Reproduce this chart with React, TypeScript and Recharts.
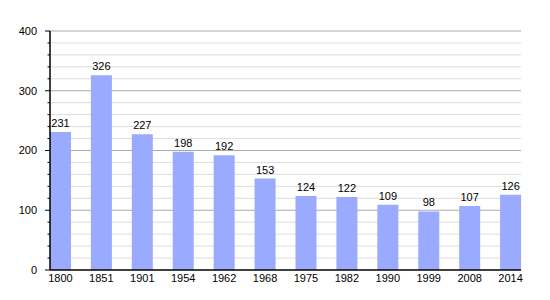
import React from "react";
import { BarChart, Bar, XAxis, YAxis, CartesianGrid, LabelList } from "recharts";

const years = ["1800", "1851", "1901", "1954", "1962", "1968", "1975", "1982", "1990", "1999", "2008", "2014"];
const population = [231, 326, 227, 198, 192, 153, 124, 122, 109, 98, 107, 126];
const yTicks = [0, 20, 40, 60, 80, 100, 120, 140, 160, 180, 200, 220, 240, 260, 280, 300, 320, 340, 360, 380, 400];
const majorTicks = [100, 200, 300, 400];
const minorTicks = yTicks.filter((t) => t % 100 !== 0);

const data = years.map((y, i) => ({ idx: i, year: y, value: population[i] }));

const FONT = "'Liberation Sans', Arial, sans-serif";

const YTick = (props: any) => {
  const { x, y, payload } = props;
  const v = payload.value as number;
  const major = v % 100 === 0;
  return (
    <g>
      <line x1={x - (major ? 5 : 2.5)} x2={x} y1={y} y2={y} stroke="#000" strokeWidth={1} />
      {major && (
        <text x={x - 13} y={y} dy="0.35em" textAnchor="end" fontSize={11} fontFamily={FONT} fill="#000">
          {v}
        </text>
      )}
    </g>
  );
};

export default function App() {
  return (
    <div style={{ position: "absolute", left: 0, top: 0, width: 550, height: 300, background: "#fff" }}>
      <BarChart width={550} height={300} data={data} margin={{ top: 31, right: 29, bottom: 0, left: 0 }}>
        <CartesianGrid vertical={false} horizontalValues={minorTicks} stroke="#dddddd" strokeWidth={1} />
        <CartesianGrid vertical={false} horizontalValues={majorTicks} stroke="#aaaaaa" strokeWidth={1} />
        <XAxis
          dataKey="idx"
          type="number"
          height={30}
          domain={[-0.255, 11.255]}
          ticks={years.map((_, i) => i)}
          tickFormatter={(v: number) => years[v]}
          interval={0}
          tickLine={false}
          tickSize={2}
          tickMargin={2}
          axisLine={{ stroke: "#000", strokeWidth: 1.5 }}
          tick={{ fontSize: 11, fill: "#000", fontFamily: FONT }}
          allowDecimals={false}
        />
        <YAxis
          width={50}
          domain={[0, 400]}
          ticks={yTicks}
          interval={0}
          tickLine={false}
          tickSize={0}
          tickMargin={0}
          axisLine={{ stroke: "#000", strokeWidth: 1.5 }}
          tick={<YTick />}
        />
        <Bar dataKey="value" fill="#99aaff" barSize={21} isAnimationActive={false}>
          <LabelList dataKey="value" position="top" offset={5} fontSize={11} fill="#000" fontFamily={FONT} />
        </Bar>
      </BarChart>
    </div>
  );
}
